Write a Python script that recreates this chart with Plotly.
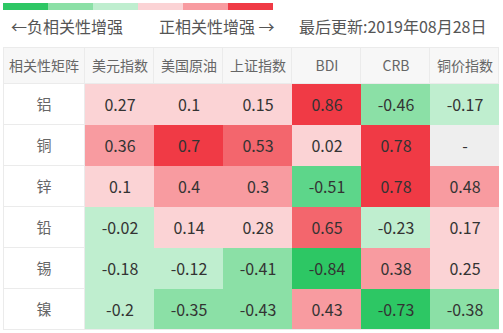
import plotly.graph_objects as go

# ---- data ----
metals = ["铝", "铜", "锌", "铅", "锡", "镍"]
indicators = ["美元指数", "美国原油", "上证指数", "BDI", "CRB", "铜价指数"]
corner_label = "相关性矩阵"
corr_usd = [0.27, 0.36, 0.1, -0.02, -0.18, -0.2]
corr_oil = [0.1, 0.7, 0.4, 0.14, -0.12, -0.35]
corr_sh = [0.15, 0.53, 0.3, 0.28, -0.41, -0.43]
corr_bdi = [0.86, 0.02, -0.51, 0.65, -0.84, 0.43]
corr_crb = [-0.46, 0.78, 0.78, -0.23, 0.38, -0.73]
corr_cu = [-0.17, None, 0.48, 0.17, 0.25, -0.38]
legend_labels = ["←负相关性增强", "正相关性增强 →"]
update_text = "最后更新:2019年08月28日"

columns = [corr_usd, corr_oil, corr_sh, corr_bdi, corr_crb, corr_cu]

# ---- styles / layout (pixel grid of the 503x333 page) ----
W, H = 503, 333
col_edges = [3, 85, 154, 223, 292, 361, 430, 499]   # first = label column
row_edges = [47, 84, 125, 166, 207, 248, 289, 330]  # first = header row
strip_x = [3, 48, 93, 138, 183, 228, 273]
strip_y = [3, 10]

legend_colors = ["#2DC764", "#8BE0A6", "#BFEECF", "#FBD3D5", "#F89BA0", "#F03A45"]
bin_colors = ["#2DC764", "#5DD68A", "#8BE0A6", "#BFEECF",
              "#FBD3D5", "#F89BA0", "#F3666D", "#F03A45", "#EEEEEE"]
LINE = "#EBEBEB"
HEADER_BG = "#F7F7F7"
FONT = "Noto Sans CJK SC, Noto Sans, sans-serif"


def bin_index(v):
    if v is None:
        return 8
    thresholds = [-0.7, -0.5, -0.3, 0, 0.3, 0.5, 0.7]
    if v <= -0.7:
        return 0
    if v <= -0.5:
        return 1
    if v <= -0.3:
        return 2
    if v < 0:
        return 3
    if v < 0.3:
        return 4
    if v < 0.5:
        return 5
    if v < 0.7:
        return 6
    return 7


def fmt(v):
    return "-" if v is None else f"{v:g}"


def flat_scale(c):
    return [[0, c], [1, c]]


nrows = len(metals)
ncols = len(columns)
z_data = [[bin_index(columns[j][i]) for j in range(ncols)] for i in range(nrows)]
t_data = [[fmt(columns[j][i]) for j in range(ncols)] for i in range(nrows)]
nb = len(bin_colors)
data_scale = [[k / (nb - 1), c] for k, c in enumerate(bin_colors)]

fig = go.Figure()

# header row
fig.add_trace(go.Heatmap(
    x=col_edges, y=row_edges[:2],
    z=[[0] * (ncols + 1)], text=[[corner_label] + indicators],
    texttemplate="%{text}", textfont=dict(family=FONT, size=14, color="#666666"),
    colorscale=flat_scale(HEADER_BG), showscale=False, hoverinfo="skip",
))
# row label column
fig.add_trace(go.Heatmap(
    x=col_edges[:2], y=row_edges[1:],
    z=[[0] for _ in metals], text=[[m] for m in metals],
    texttemplate="%{text}", textfont=dict(family=FONT, size=15, color="#666666"),
    colorscale=flat_scale("#FFFFFF"), showscale=False, hoverinfo="skip",
))
# correlation cells
fig.add_trace(go.Heatmap(
    x=col_edges[1:], y=row_edges[1:],
    z=z_data, text=t_data, zmin=0, zmax=nb - 1,
    texttemplate="%{text}", textfont=dict(family=FONT, size=16, color="#333333"),
    colorscale=data_scale, showscale=False, hoverinfo="skip",
))
# colour key strip
fig.add_trace(go.Heatmap(
    x=strip_x, y=strip_y,
    z=[list(range(len(legend_colors)))],
    colorscale=[[i / (len(legend_colors) - 1), c] for i, c in enumerate(legend_colors)],
    showscale=False, hoverinfo="skip",
))

# table borders (only visible on header / label cells, as in the original)
shapes = []
def hline(y, x0, x1):
    shapes.append(dict(type="line", x0=x0, x1=x1, y0=y + 0.5, y1=y + 0.5,
                       line=dict(color=LINE, width=1), layer="above"))
def vline(x, y0, y1):
    shapes.append(dict(type="line", x0=x + 0.5, x1=x + 0.5, y0=y0, y1=y1,
                       line=dict(color=LINE, width=1), layer="above"))

hline(row_edges[0], col_edges[0], col_edges[-1])
hline(row_edges[1] - 1, col_edges[0], col_edges[-1])
for y in row_edges[2:]:
    hline(y - 1, col_edges[0], col_edges[1])
hline(row_edges[-1] - 1, col_edges[0], col_edges[-1])
vline(col_edges[0], row_edges[0], row_edges[-1])
vline(col_edges[1] - 1, row_edges[0], row_edges[-1])
for x in col_edges[2:]:
    vline(x - 1, row_edges[0], row_edges[1])

fig.update_layout(
    width=W, height=H,
    margin=dict(l=0, r=0, t=0, b=0),
    paper_bgcolor="white", plot_bgcolor="white",
    xaxis=dict(domain=[0, 1], range=[0, W], visible=False, fixedrange=True),
    yaxis=dict(domain=[0, 1], range=[H, 0], visible=False, fixedrange=True),
    font=dict(family=FONT, color="#555555"),
    showlegend=False,
    shapes=shapes,
)

ann_y = 26
fig.add_annotation(text=legend_labels[0], x=9, y=ann_y, xref="x", yref="y",
                   xanchor="left", yanchor="middle", showarrow=False,
                   font=dict(size=16, color="#555555", family=FONT))
fig.add_annotation(text=legend_labels[1], x=157, y=ann_y, xref="x", yref="y",
                   xanchor="left", yanchor="middle", showarrow=False,
                   font=dict(size=16, color="#555555", family=FONT))
fig.add_annotation(text=update_text, x=489, y=ann_y, xref="x", yref="y",
                   xanchor="right", yanchor="middle", showarrow=False,
                   font=dict(size=16, color="#555555", family=FONT))

fig.write_html("out.html", config={"displayModeBar": False})
